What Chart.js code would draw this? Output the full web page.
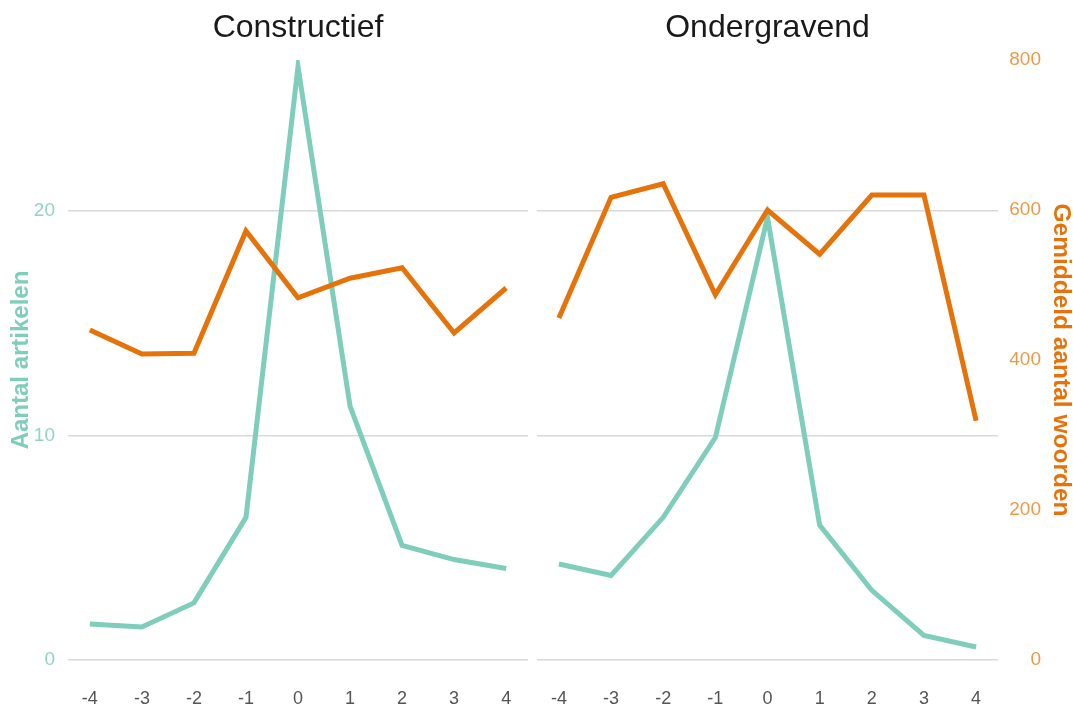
<!DOCTYPE html>
<html>
<head>
<meta charset="utf-8">
<script src="https://cdn.jsdelivr.net/npm/chart.js@4/dist/chart.umd.min.js"></script>
<style>
  html, body { margin: 0; padding: 0; background: #fff; }
  #wrap { position: relative; width: 1073px; height: 706px; }
  #left { position: absolute; left: 0; top: 0; }
  #right { position: absolute; left: 537px; top: 0; }
</style>
</head>
<body>
<div id="wrap">
  <canvas id="left" width="533" height="706"></canvas>
  <canvas id="right" width="536" height="706"></canvas>
</div>
<script>
// weken rond de gebeurtenis
const weeks = [-4, -3, -2, -1, 0, 1, 2, 3, 4];

const constructiefArtikelen = [1.6, 1.47, 2.54, 6.35, 26.4, 11.3, 5.1, 4.47, 4.07];
const constructiefWoorden = [440, 408, 409, 572, 483, 509, 523, 436, 496];

const ondergravendArtikelen = [4.27, 3.76, 6.35, 9.9, 19.7, 6.0, 3.1, 1.09, 0.58];
const ondergravendWoorden = [456, 617, 635, 487, 600, 541, 620, 620, 319];

const artikelTicks = [0, 10, 20];
const woordenTicks = [0, 200, 400, 600, 800];

const teal = '#7fcdbb';
const orange = '#e6730a';

Chart.defaults.font.family = "'Liberation Sans', Arial, sans-serif";

function points(values) {
    return weeks.map((w, i) => ({x: w, y: values[i]}));
}

function setTicks(list) {
    return scale => { scale.ticks = list.map(v => ({value: v})); };
}

function makeChart(id, title, artikelen, woorden, side) {
    const isLeft = side === 'left';

    const scales = {
        x: {
            type: 'linear',
            min: -4.42,
            max: 4.42,
            afterBuildTicks: setTicks(weeks),
            afterFit: s => {
                s.height = 46;
                s.paddingLeft = 0;
                s.paddingRight = 0;
            },
            grid: {display: false},
            border: {display: false},
            ticks: {color: '#555', font: {size: 18}, padding: 20}
        },
        yA: {
            type: 'linear',
            position: 'left',
            min: 0,
            max: 26.7,
            afterBuildTicks: setTicks(artikelTicks),
            afterFit: s => { s.width = isLeft ? 68 : 0; },
            grid: {color: '#d9d9d9', lineWidth: 1.5, drawTicks: false},
            border: {display: false},
            ticks: {display: isLeft, color: '#8fd4c4', font: {size: 19}, padding: 13},
            title: {
                display: isLeft,
                text: 'Aantal artikelen',
                color: teal,
                font: {size: 24, weight: 'bold'},
                padding: {top: 6.6, bottom: 0}
            }
        },
        yW: {
            type: 'linear',
            position: 'right',
            min: 0,
            max: 800,
            display: !isLeft,
            afterBuildTicks: setTicks(woordenTicks),
            afterFit: s => { s.width = isLeft ? 0 : 43; },
            grid: {display: false},
            border: {display: false},
            ticks: {color: '#eb9a4a', font: {size: 19}, crossAlign: 'far'}
        }
    };

    if (!isLeft) {
        // extra as alleen voor de titel rechts
        scales.yT = {
            type: 'linear',
            position: 'right',
            afterFit: s => { s.width = 32; },
            grid: {display: false},
            border: {display: false},
            ticks: {display: false},
            title: {
                display: true,
                text: 'Gemiddeld aantal woorden',
                color: orange,
                font: {size: 24.5, weight: 'bold', lineHeight: 1},
                padding: {top: 0, bottom: 0}
            }
        };
    }

    return new Chart(id, {
        type: 'line',
        data: {
            datasets: [{
                label: 'Gemiddeld aantal woorden',
                data: points(woorden),
                borderColor: orange,
                borderWidth: 5,
                pointRadius: 0,
                yAxisID: 'yW',
                xAxisID: 'x'
            }, {
                label: 'Aantal artikelen',
                data: points(artikelen),
                borderColor: teal,
                borderWidth: 5,
                pointRadius: 0,
                yAxisID: 'yA',
                xAxisID: 'x'
            }]
        },
        options: {
            responsive: false,
            animation: false,
            layout: {padding: {left: 0, right: isLeft ? 5 : 0, top: 0, bottom: 0}},
            plugins: {
                legend: {display: false},
                tooltip: {enabled: false},
                title: {
                    display: true,
                    text: title,
                    fullSize: false,
                    color: '#1a1a1a',
                    font: {size: 32, weight: 'normal'},
                    padding: {top: 9, bottom: 12.6}
                }
            },
            scales: scales
        }
    });
}

makeChart('left', 'Constructief', constructiefArtikelen, constructiefWoorden, 'left');
makeChart('right', 'Ondergravend', ondergravendArtikelen, ondergravendWoorden, 'right');
</script>
</body>
</html>
